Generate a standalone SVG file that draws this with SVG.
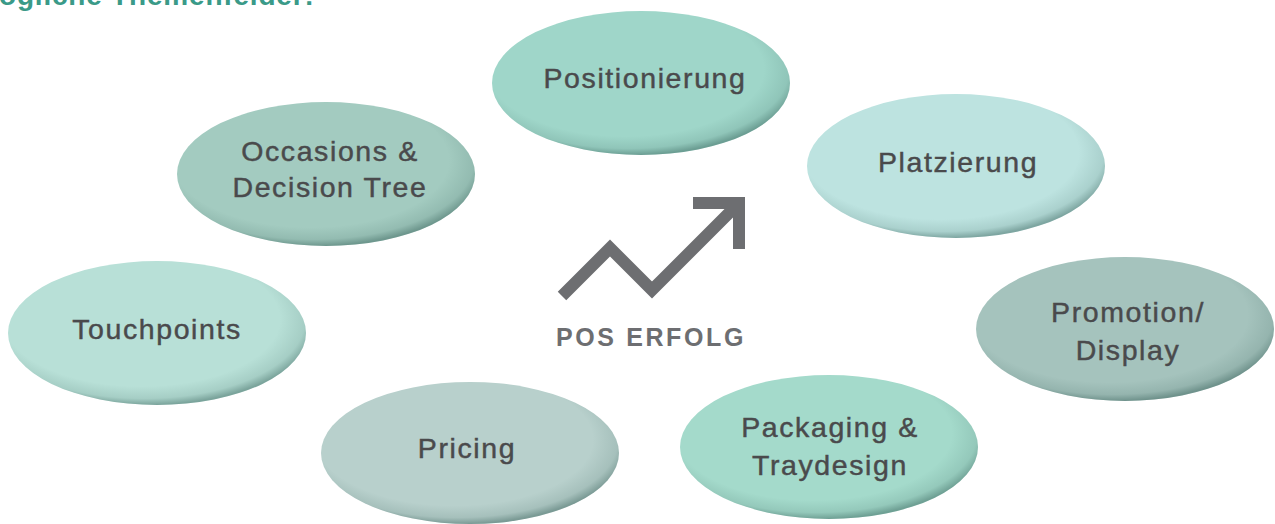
<svg xmlns="http://www.w3.org/2000/svg" width="1275" height="524" viewBox="0 0 1275 524">
<defs>
<radialGradient id="shade" cx="0.46" cy="0.42" r="0.58" fx="0.4" fy="0.35">
<stop offset="0.8" stop-color="#1f4a43" stop-opacity="0"/>
<stop offset="0.93" stop-color="#1f4a43" stop-opacity="0.12"/>
<stop offset="1" stop-color="#1f4a43" stop-opacity="0.4"/>
</radialGradient>
<style>
.lbl{font-family:"Liberation Sans",Arial,sans-serif;font-size:28.5px;fill:#4a4a4c;stroke:#4a4a4c;stroke-width:0.45px;text-anchor:middle;letter-spacing:1.6px}
.sh{fill:url(#shade)}
.title{font-family:"Liberation Sans",Arial,sans-serif;font-size:28px;font-weight:bold;fill:#3a9a88;letter-spacing:0.8px}
.center{font-family:"Liberation Sans",Arial,sans-serif;font-size:25px;font-weight:bold;fill:#6d6e71;text-anchor:middle;letter-spacing:2.6px}
</style>
</defs>
<rect width="1275" height="524" fill="#ffffff"/>
<text class="title" x="-1" y="5">ögliche Themenfelder:</text>

<g id="node-positionierung">
<ellipse cx="641" cy="83" rx="149" ry="72" fill="#9fd6c9"/>
<ellipse class="sh" cx="641" cy="83" rx="149" ry="72"/>
<text class="lbl" x="645" y="88">Positionierung</text>
</g>
<g id="node-platzierung">
<ellipse cx="956" cy="166" rx="149" ry="72" fill="#bde3e0"/>
<ellipse class="sh" cx="956" cy="166" rx="149" ry="72"/>
<text class="lbl" x="958" y="172">Platzierung</text>
</g>
<g id="node-occasions">
<ellipse cx="326" cy="174" rx="149" ry="72" fill="#a3cbc0"/>
<ellipse class="sh" cx="326" cy="174" rx="149" ry="72"/>
<text class="lbl" x="330" y="161">Occasions &amp;</text>
<text class="lbl" x="330" y="197">Decision Tree</text>
</g>
<g id="node-touchpoints">
<ellipse cx="157" cy="333" rx="149" ry="72" fill="#b8e0d7"/>
<ellipse class="sh" cx="157" cy="333" rx="149" ry="72"/>
<text class="lbl" x="157" y="339">Touchpoints</text>
</g>
<g id="node-promotion">
<ellipse cx="1125" cy="329" rx="149" ry="72" fill="#a5c3bd"/>
<ellipse class="sh" cx="1125" cy="329" rx="149" ry="72"/>
<text class="lbl" x="1128" y="322">Promotion/</text>
<text class="lbl" x="1128" y="360">Display</text>
</g>
<g id="node-pricing">
<ellipse cx="470" cy="453" rx="149" ry="71" fill="#b8d0cc"/>
<ellipse class="sh" cx="470" cy="453" rx="149" ry="71"/>
<text class="lbl" x="467" y="458">Pricing</text>
</g>
<g id="node-packaging">
<ellipse cx="829" cy="447" rx="149" ry="72" fill="#a4dacb"/>
<ellipse class="sh" cx="829" cy="447" rx="149" ry="72"/>
<text class="lbl" x="830" y="437">Packaging &amp;</text>
<text class="lbl" x="830" y="475">Traydesign</text>
</g>

<g id="node-pos-erfolg">
<polyline points="562,296 610,248 652,290 738,204" fill="none" stroke="#6d6e71" stroke-width="12" stroke-linejoin="miter"/>
<polyline points="693,203 739,203 739,249" fill="none" stroke="#6d6e71" stroke-width="12" stroke-linejoin="miter"/>
<text class="center" x="651" y="346">POS ERFOLG</text>
</g>
<g id="connectors"></g>
</svg>
